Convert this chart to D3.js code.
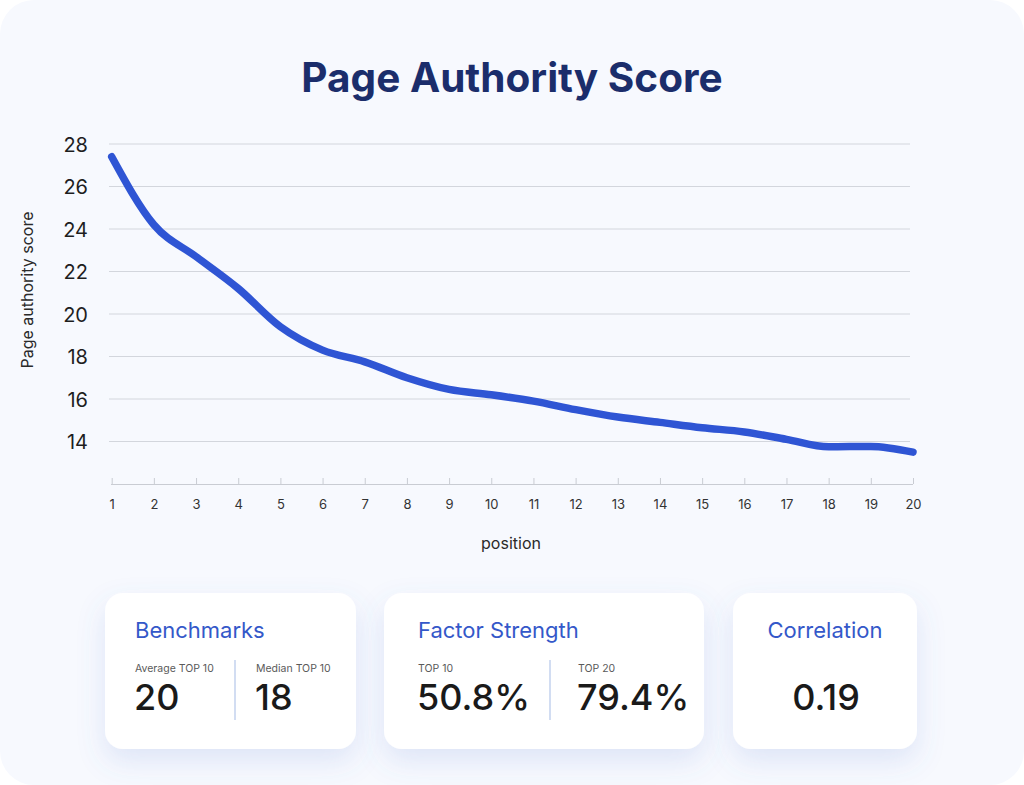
<!DOCTYPE html>
<html>
<head>
<meta charset="utf-8">
<script src="https://cdn.jsdelivr.net/npm/d3@7"></script>
<style>
  html, body { margin: 0; padding: 0; background: #ffffff; }
  svg { display: block; }
  text { font-family: Inter, "Noto Sans", sans-serif; }
</style>
</head>
<body>
<svg id="chart" width="1024" height="785"></svg>
<script>
// ---- Data ----
const positions = [1,2,3,4,5,6,7,8,9,10,11,12,13,14,15,16,17,18,19,20];
const scores = [27.4,24.2,22.7,21.2,19.4,18.3,17.75,17.0,16.45,16.2,15.9,15.5,15.15,14.9,14.65,14.45,14.1,13.75,13.77,13.5];
const yTicks = [14,16,18,20,22,24,26,28];
const title = "Page Authority Score";
const yLabel = "Page authority score";
const xLabel = "position";

const benchmarkLabels = ["Average TOP 10", "Median TOP 10"];
const benchmarkValues = ["20", "18"];
const strengthLabels = ["TOP 10", "TOP 20"];
const strengthValues = ["50.8%", "79.4%"];
const correlationValue = "0.19";

// ---- Setup ----
const svg = d3.select("#chart");
const defs = svg.append("defs");
const f = defs.append("filter").attr("id", "shadow")
  .attr("x", "-30%").attr("y", "-30%").attr("width", "160%").attr("height", "180%");
f.append("feDropShadow").attr("dx", 0).attr("dy", 12).attr("stdDeviation", 14)
  .attr("flood-color", "#5b7bd0").attr("flood-opacity", 0.16);

svg.append("rect").attr("x", 0).attr("y", 0).attr("width", 1024).attr("height", 785)
  .attr("rx", 34).attr("fill", "#f7f9fe");

svg.append("text").attr("x", 512).attr("y", 92).attr("text-anchor", "middle")
  .attr("font-size", 40.5).attr("font-weight", 700).attr("fill", "#1b2d6b")
  .text(title);

const x = d3.scaleLinear().domain([1, 20]).range([111.7, 913]);
const y = d3.scaleLinear().domain([12, 28]).range([484, 144]);

// gridlines
svg.append("g").selectAll("line").data(yTicks).join("line")
  .attr("x1", 109).attr("x2", 910)
  .attr("y1", d => y(d)).attr("y2", d => y(d))
  .attr("stroke", "#d3d6dd").attr("stroke-width", 1);

// y axis labels
const yAxis = d3.axisLeft(y).tickValues(yTicks).tickSize(0).tickPadding(0).tickFormat(d3.format("d"));
const gy = svg.append("g").attr("transform", "translate(88,0)").call(yAxis);
gy.select(".domain").remove();
gy.selectAll("text").attr("font-size", 20).attr("fill", "#1e1e1e")
  .attr("font-family", "Inter, sans-serif").attr("dy", "0.35em");

// x axis
const xAxis = d3.axisBottom(x).tickValues(positions).tickSize(-6).tickPadding(16).tickFormat(d3.format("d"));
const gx = svg.append("g").attr("transform", "translate(0,484)").call(xAxis);
gx.select(".domain").attr("stroke", "#c9ccd3").attr("d", "M111,0.5H913");
gx.selectAll(".tick line").attr("stroke", "#c9ccd3");
gx.selectAll("text").attr("font-size", 13).attr("fill", "#333").attr("font-family", "Inter, sans-serif");

// axis titles
svg.append("text").attr("x", 511).attr("y", 549).attr("text-anchor", "middle")
  .attr("font-size", 16).attr("fill", "#2a2a2a").text(xLabel);
svg.append("text").attr("transform", "translate(33,290) rotate(-90)").attr("text-anchor", "middle")
  .attr("font-size", 16).attr("fill", "#2a2a2a").text(yLabel);

// line
const line = d3.line().x((d, i) => x(positions[i])).y(d => y(d)).curve(d3.curveMonotoneX);
svg.append("path").datum(scores).attr("d", line)
  .attr("fill", "none").attr("stroke", "#2f55d4").attr("stroke-width", 7.5)
  .attr("stroke-linecap", "round").attr("stroke-linejoin", "round");

// ---- Cards ----
function card(x0, w) {
  svg.append("rect").attr("x", x0).attr("y", 593).attr("width", w).attr("height", 156)
    .attr("rx", 18).attr("fill", "#ffffff").attr("filter", "url(#shadow)");
}
const titleColor = "#3458c9";
card(105, 251);
card(384, 320);
card(733, 184);

function cardTitle(tx, txt, anchor) {
  svg.append("text").attr("x", tx).attr("y", 638).attr("font-size", 22)
    .attr("fill", titleColor).attr("text-anchor", anchor || "start").text(txt);
}
function stat(tx, lab, val) {
  svg.append("text").attr("x", tx).attr("y", 672).attr("font-size", 10.5)
    .attr("fill", "#5a5a5a").text(lab);
  svg.append("text").attr("x", tx - 1).attr("y", 710).attr("font-size", 36).attr("font-weight", 500)
    .attr("fill", "#1a1a1a").text(val);
}
function divider(dx) {
  svg.append("line").attr("x1", dx).attr("x2", dx).attr("y1", 660).attr("y2", 720)
    .attr("stroke", "#c3d2ee").attr("stroke-width", 1.5);
}

cardTitle(135, "Benchmarks");
stat(135, benchmarkLabels[0], benchmarkValues[0]);
stat(256, benchmarkLabels[1], benchmarkValues[1]);
divider(235);

cardTitle(418, "Factor Strength");
stat(418, strengthLabels[0], strengthValues[0]);
stat(578, strengthLabels[1], strengthValues[1]);
divider(550);

cardTitle(825, "Correlation", "middle");
svg.append("text").attr("x", 826).attr("y", 710).attr("font-size", 36).attr("font-weight", 500)
  .attr("fill", "#1a1a1a").attr("text-anchor", "middle").text(correlationValue);
</script>
</body>
</html>
